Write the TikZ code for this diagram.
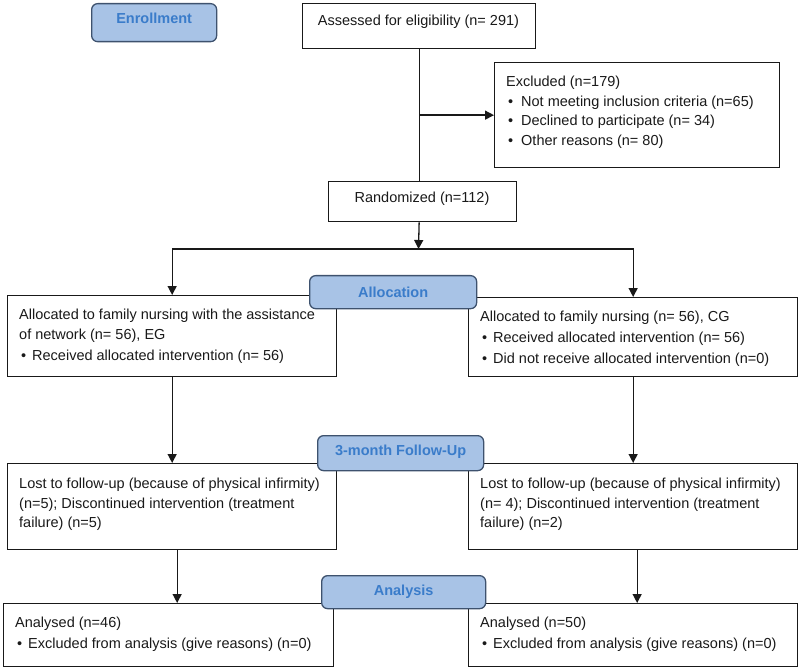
\documentclass[tikz,border=0pt]{standalone}
\usepackage{fontspec}
\setmainfont{Liberation Sans}
\usetikzlibrary{arrows.meta}
\definecolor{labfill}{RGB}{168,195,230}
\definecolor{labdraw}{RGB}{62,82,110}
\definecolor{labtext}{RGB}{58,124,202}
\definecolor{ink}{RGB}{25,25,25}
\newcommand{\bul}{\hspace*{2pt}\makebox[11pt][l]{•}}
\tikzset{
  box/.style={draw=ink, line width=1.3pt, rectangle, inner sep=0pt, anchor=north west},
  lab/.style={draw=labdraw, fill=labfill, line width=1.3pt, rounded corners=6pt, inner sep=0pt,
    anchor=north west, text=labtext, font=\fontsize{14.5}{17}\selectfont\bfseries},
  txt/.style={inner sep=0pt, align=left, text=ink, font=\fontsize{14.5}{19.5}\selectfont},
  ctxt/.style={inner sep=0pt, align=center, text=ink, font=\fontsize{14.5}{19.5}\selectfont, anchor=north},
  arr/.style={draw=ink, line width=1.3pt, -{Triangle[length=9pt,width=9pt]}},
  ln/.style={draw=ink, line width=1.3pt}
}
\begin{document}
\begin{tikzpicture}[x=1pt,y=-1pt]
\useasboundingbox (0,0) rectangle (800,668);
% boxes
\node[box, minimum width=233pt, minimum height=45pt] (assess) at (302,3) {};
\node[box, minimum width=285pt, minimum height=105pt] (excl) at (494,62) {};
\node[box, minimum width=188pt, minimum height=40pt] (rand) at (328,181) {};
\node[box, minimum width=329pt, minimum height=81pt] (allocL) at (7,295) {};
\node[box, minimum width=329pt, minimum height=79pt] (allocR) at (468,297) {};
\node[box, minimum width=329pt, minimum height=86pt] (fuL) at (7,463) {};
\node[box, minimum width=329pt, minimum height=86pt] (fuR) at (468,463) {};
\node[box, minimum width=330pt, minimum height=63pt] (anL) at (3,603) {};
\node[box, minimum width=329pt, minimum height=63pt] (anR) at (468,603) {};
% texts
\node[ctxt] (assessT) at (418.5,15) {Assessed for eligibility (n= 291)};
\node[txt, anchor=north west] (exclT) at (506,76) {Excluded (n=179)\\
\bul\hspace*{2pt}Not meeting inclusion criteria (n=65)\\
\bul\hspace*{2pt}Declined to participate (n= 34)\\
\bul\hspace*{2pt}Other reasons (n= 80)};
\node[ctxt] (randT) at (422,192) {Randomized (n=112)};
\node[txt, anchor=north west] (allocLT) at (19,309) {Allocated to family nursing with the assistance\\
of network (n= 56), EG\\[1.5pt]
\bul Received allocated intervention (n= 56)};
\node[txt, anchor=north west] (allocRT) at (480,311) {Allocated to family nursing (n= 56), CG\\[1pt]
\bul Received allocated intervention (n= 56)\\[2pt]
\bul Did not receive allocated intervention (n=0)};
\node[txt, anchor=north west] (fuLT) at (19,478) {Lost to follow-up (because of physical infirmity)\\
(n=5); Discontinued intervention (treatment\\
failure) (n=5)};
\node[txt, anchor=north west] (fuRT) at (480,478) {Lost to follow-up (because of physical infirmity)\\
(n= 4); Discontinued intervention (treatment\\
failure) (n=2)};
\node[txt, anchor=north west] (anLT) at (15,617) {Analysed (n=46)\\[1.5pt]
\bul Excluded from analysis (give reasons) (n=0)};
\node[txt, anchor=north west] (anRT) at (480,617) {Analysed (n=50)\\[1.5pt]
\bul Excluded from analysis (give reasons) (n=0)};
% connectors
\coordinate (j) at (418.5,249);
\draw[ln] (assess.south) -- (assess.south |- rand.north);
\draw[arr] (assess.south |- excl.west) -- (excl.west);
\draw[arr] (assess.south |- rand.south) -- (j);
\draw[arr] (j) -| (allocL.north);
\draw[arr] (j) -| (allocR.north);
\draw[arr] (allocL.south) -- (fuL.north);
\draw[arr] (allocR.south) -- (fuR.north);
\draw[arr] ([xshift=5pt]fuL.south) -- ([xshift=5pt]fuL.south |- anL.north);
\draw[arr] ([xshift=4pt]fuR.south) -- ([xshift=4pt]fuR.south |- anR.north);
% stage labels
\node[lab, minimum width=125pt, minimum height=38pt, text depth=9pt] (enroll) at (91,3) {Enrollment};
\node[lab, minimum width=167pt, minimum height=33pt] (alloclab) at (309,275) {Allocation};
\node[lab, minimum width=166pt, minimum height=35pt, text depth=6pt] (fulab) at (317,435) {3-month Follow-Up};
\node[lab, minimum width=164pt, minimum height=33pt] (anlab) at (321,575) {Analysis};
\end{tikzpicture}
\end{document}
